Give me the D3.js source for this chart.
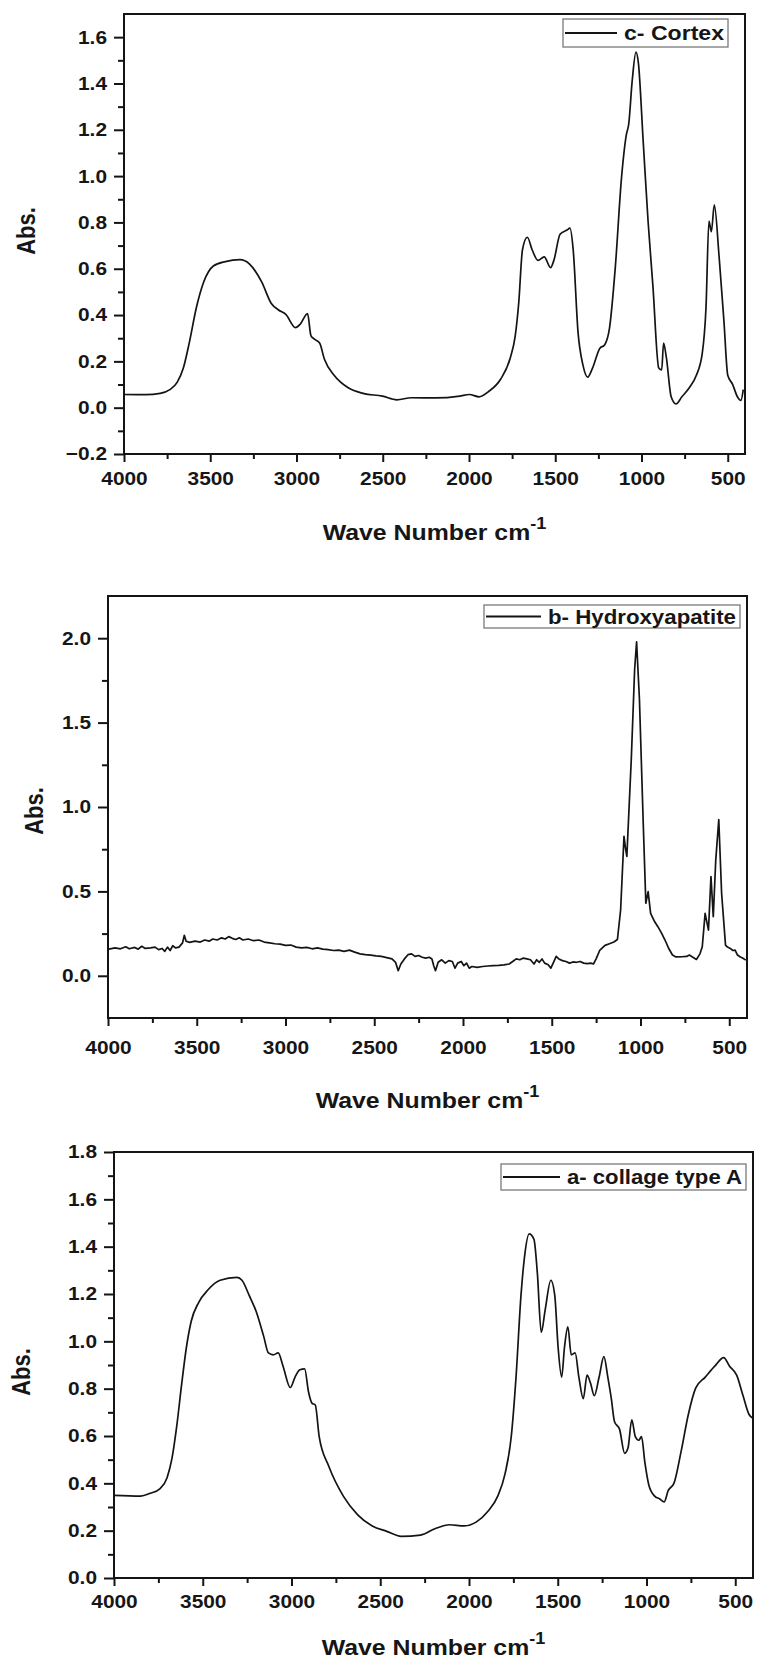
<!DOCTYPE html>
<html>
<head>
<meta charset="utf-8">
<script src="https://cdn.jsdelivr.net/npm/d3@7"></script>
<style>
  body { margin: 0; background: #fff; }
  svg { display: block; }
  text { font-family: "Liberation Sans", Arial, sans-serif; font-weight: bold; fill: #161616; }
</style>
</head>
<body>
<div id="graph"></div>
<script>
// ---- data ----
var x_major = [4000, 3500, 3000, 2500, 2000, 1500, 1000, 500];
var x_minor = [3750, 3250, 2750, 2250, 1750, 1250, 750];

var cortex_wave = [4000,3874,3790,3734,3692,3656,3622,3580,3538,3482,3412,3328,3272,3202,3146,3104,3062,3006,2978,2936,
  2916,2894,2866,2838,2782,2698,2614,2502,2418,2334,2194,2054,1998,1942,1886,1816,1760,1732,1712,1690,
  1662,1634,1600,1564,1527,1508,1472,1432,1415,1396,1368,1340,1312,1284,1242,1214,1186,1152,1116,1088,
  1074,1054,1032,1018,990,962,934,900,883,872,856,828,800,766,724,682,648,626,609,595,
  578,550,522,500,472,444,424,410];
var cortex_abs = [0.057,0.056,0.062,0.078,0.109,0.171,0.279,0.434,0.543,0.612,0.631,0.639,0.620,0.543,0.450,0.422,0.403,0.346,0.361,0.406,
  0.310,0.295,0.279,0.209,0.140,0.085,0.062,0.050,0.034,0.043,0.042,0.050,0.057,0.047,0.070,0.124,0.217,0.310,0.450,0.682,
  0.736,0.682,0.636,0.651,0.605,0.636,0.749,0.767,0.775,0.682,0.326,0.186,0.132,0.171,0.256,0.271,0.341,0.605,0.992,1.178,
  1.225,1.411,1.535,1.488,1.147,0.806,0.527,0.171,0.163,0.279,0.217,0.047,0.016,0.047,0.085,0.140,0.233,0.434,0.806,0.760,
  0.876,0.651,0.372,0.140,0.101,0.047,0.031,0.078];

// hydroxyapatite: noisy baseline, then the phosphate bands
var hap_wave = [3995,3960,3930,3900,3880,3850,3830,3810,3790,3760,3735,3715,3695,3680,3665,3650,3635,3620,3600,3580,
  3570,3560,3540,3510,3480,3455,3430,3410,3385,3360,3340,3320,3300,3280,3260,3240,3210,3180,3150,3120,
  3090,3060,3030,3000,2970,2940,2910,2880,2850,2820,2790,2760,2730,2700,2670,2640,2610,2580,2550,2520,
  2490,2460,2430,2400,2380,2365,2350,2330,2310,2290,2270,2250,2230,2210,2190,2175,2165,2155,2140,2120,
  2100,2080,2060,2045,2030,2010,1995,1980,1965,1950,1920,1890,1860,1830,1800,1770,1740,1720,1700,1680,
  1660,1640,1620,1600,1585,1570,1555,1540,1520,1505,1490,1475,1460,1440,1420,1400,1380,1360,1340,1320,
  1300,1280,1265,1250,1230,1200,1175,1150,1130,1112,1093,1085,1077,1052,1033,1022,1006,984,970,957,
  943,920,902,880,862,840,820,800,766,740,725,705,685,665,652,636,617,603,590,576,
  559,543,521,510,494,480,467,455,440,425,407];
var hap_abs = [0.158,0.165,0.160,0.172,0.160,0.168,0.158,0.175,0.162,0.165,0.170,0.155,0.162,0.145,0.170,0.150,0.178,0.165,0.170,0.195,
  0.240,0.205,0.198,0.205,0.200,0.212,0.205,0.218,0.212,0.225,0.218,0.232,0.222,0.215,0.225,0.212,0.218,0.208,0.212,0.200,
  0.195,0.190,0.188,0.180,0.182,0.170,0.165,0.168,0.160,0.165,0.158,0.155,0.150,0.152,0.145,0.152,0.140,0.130,0.125,0.122,
  0.118,0.115,0.108,0.100,0.080,0.030,0.070,0.100,0.125,0.130,0.115,0.120,0.110,0.105,0.110,0.100,0.060,0.030,0.080,0.095,
  0.075,0.090,0.085,0.045,0.075,0.085,0.060,0.075,0.045,0.055,0.050,0.055,0.058,0.060,0.062,0.065,0.070,0.085,0.100,0.095,
  0.105,0.100,0.095,0.070,0.095,0.080,0.100,0.075,0.065,0.045,0.080,0.115,0.100,0.090,0.085,0.075,0.082,0.080,0.085,0.075,
  0.072,0.075,0.070,0.100,0.150,0.180,0.190,0.200,0.215,0.390,0.826,0.760,0.707,1.281,1.816,1.978,1.638,0.885,0.430,0.499,
  0.370,0.320,0.291,0.250,0.212,0.160,0.123,0.112,0.113,0.115,0.123,0.110,0.097,0.130,0.172,0.370,0.271,0.588,0.350,0.687,
  0.925,0.489,0.182,0.170,0.162,0.150,0.152,0.125,0.113,0.105,0.093];

var coll_wave = [4000,3850,3796,3742,3701,3674,3646,3619,3592,3565,3524,3470,3402,3307,3279,3239,3198,3157,3130,3103,
  3075,3048,3007,2980,2953,2926,2904,2885,2866,2844,2790,2708,2627,2545,2463,2382,2273,2192,2110,2028,
  1960,1892,1838,1797,1762,1735,1707,1688,1661,1634,1615,1593,1571,1539,1517,1498,1478,1462,1443,1424,
  1402,1381,1356,1335,1316,1294,1267,1240,1218,1199,1180,1152,1123,1104,1083,1063,1044,1028,1009,987,
  954,927,900,878,845,805,764,723,669,614,565,533,492,456,423,402];
var coll_abs = [0.349,0.346,0.358,0.377,0.424,0.503,0.645,0.818,0.975,1.085,1.163,1.218,1.258,1.270,1.258,1.195,1.124,1.022,0.951,0.943,
  0.951,0.896,0.805,0.849,0.880,0.884,0.786,0.739,0.731,0.597,0.472,0.346,0.267,0.220,0.197,0.176,0.181,0.208,0.225,0.220,
  0.236,0.283,0.346,0.440,0.597,0.849,1.195,1.352,1.454,1.431,1.289,1.038,1.132,1.258,1.195,0.975,0.849,0.975,1.061,0.943,
  0.951,0.849,0.758,0.857,0.825,0.770,0.849,0.935,0.849,0.762,0.660,0.629,0.527,0.550,0.668,0.597,0.582,0.597,0.487,0.393,
  0.346,0.335,0.322,0.369,0.401,0.535,0.692,0.802,0.849,0.896,0.931,0.896,0.857,0.770,0.692,0.676];

var cortex_y_major = [-0.2, 0.0, 0.2, 0.4, 0.6, 0.8, 1.0, 1.2, 1.4, 1.6];
var cortex_y_minor = [-0.1, 0.1, 0.3, 0.5, 0.7, 0.9, 1.1, 1.3, 1.5];
var hap_y_major = [0.0, 0.5, 1.0, 1.5, 2.0];
var hap_y_minor = [0.25, 0.75, 1.25, 1.75];
var coll_y_major = [0.0, 0.2, 0.4, 0.6, 0.8, 1.0, 1.2, 1.4, 1.6, 1.8];
var coll_y_minor = [0.1, 0.3, 0.5, 0.7, 0.9, 1.1, 1.3, 1.5, 1.7];

var legend_labels = ["c- Cortex", "b- Hydroxyapatite", "a- collage type A"];

// figure text looks stretched sideways in the scan
var SX = 1.13;
var LINE_COLOR = "#141414";

let svg = d3.select("#graph").append("svg")
  .attr("width", 758)
  .attr("height", 1663);

let panels = [
  { wave: cortex_wave, abs: cortex_abs, y_domain: [-0.2, 1.7], y_major: cortex_y_major, y_minor: cortex_y_minor,
    curve: d3.curveMonotoneX,
    left: 124, right: 745, top: 14, bottom: 454, x_label_base: 31, title_base: 540, abs_x: 26, abs_y: 231,
    legend: { x0: 563, x1: 728, y0: 19, y1: 47, sample: 52 }, label: legend_labels[0] },
  { wave: hap_wave, abs: hap_abs, y_domain: [-0.25, 2.25], y_major: hap_y_major, y_minor: hap_y_minor,
    curve: d3.curveLinear,
    left: 108, right: 747, top: 596, bottom: 1018, x_label_base: 36, title_base: 1108, abs_x: 34, abs_y: 811,
    legend: { x0: 484, x1: 740, y0: 605, y1: 628, sample: 55 }, label: legend_labels[1] },
  { wave: coll_wave, abs: coll_abs, y_domain: [0, 1.8], y_major: coll_y_major, y_minor: coll_y_minor,
    curve: d3.curveMonotoneX,
    left: 114, right: 753, top: 1152, bottom: 1578, x_label_base: 30, title_base: 1655, abs_x: 21, abs_y: 1372,
    legend: { x0: 501, x1: 746, y0: 1164, y1: 1190, sample: 57 }, label: legend_labels[2] }
];

panels.forEach(function (p, i) { draw_panel(p, i); });

function draw_panel(p, idx) {

  let xscale = d3.scaleLinear().domain([4000, 400]).range([p.left, p.right]);
  let yscale = d3.scaleLinear().domain(p.y_domain).range([p.bottom, p.top]);

  let g = svg.append("g");

  // minor ticks first
  g.append("g")
    .attr("transform", "translate(0," + p.bottom + ")")
    .call(d3.axisBottom(xscale).tickValues(x_minor).tickSize(5).tickFormat(""))
    .call(tidy_axis);

  g.append("g")
    .attr("transform", "translate(" + p.left + ",0)")
    .call(d3.axisLeft(yscale).tickValues(p.y_minor).tickSize(6).tickFormat(""))
    .call(tidy_axis);

  // major ticks + labels
  let xa = g.append("g")
    .attr("transform", "translate(0," + p.bottom + ")")
    .call(d3.axisBottom(xscale).tickValues(x_major).tickSize(8).tickFormat(d3.format("d")))
    .call(tidy_axis);
  xa.selectAll("text")
    .attr("y", p.x_label_base)
    .attr("dy", 0)
    .attr("transform", "scale(" + SX + ",1)");

  let ya = g.append("g")
    .attr("transform", "translate(" + p.left + ",0)")
    .call(d3.axisLeft(yscale).tickValues(p.y_major).tickSize(10).tickFormat(d3.format(".1f")))
    .call(tidy_axis);
  ya.selectAll("text")
    .attr("x", -17 / SX)
    .attr("transform", "scale(" + SX + ",1)");

  // spectrum
  let clip_id = "clip" + idx;
  svg.append("clipPath").attr("id", clip_id)
    .append("rect")
    .attr("x", p.left).attr("y", p.top)
    .attr("width", p.right - p.left).attr("height", p.bottom - p.top);

  let line = d3.line()
    .x(function (d) { return xscale(d[0]); })
    .y(function (d) { return yscale(d[1]); })
    .curve(p.curve);

  g.append("path")
    .datum(d3.zip(p.wave, p.abs))
    .attr("clip-path", "url(#" + clip_id + ")")
    .attr("fill", "none")
    .attr("stroke", LINE_COLOR)
    .attr("stroke-width", 1.7)
    .attr("stroke-linejoin", "round")
    .attr("d", line);

  // frame
  g.append("rect")
    .attr("x", p.left).attr("y", p.top)
    .attr("width", p.right - p.left).attr("height", p.bottom - p.top)
    .attr("fill", "none")
    .attr("stroke", LINE_COLOR)
    .attr("stroke-width", 2);

  // legend
  let lg = p.legend;
  let ymid = (lg.y0 + lg.y1) / 2;
  g.append("rect")
    .attr("x", lg.x0).attr("y", lg.y0)
    .attr("width", lg.x1 - lg.x0).attr("height", lg.y1 - lg.y0)
    .attr("fill", "#fff")
    .attr("stroke", "#7a7a7a")
    .attr("stroke-width", 1.3);
  g.append("line")
    .attr("x1", lg.x0 + 2).attr("x2", lg.x0 + 2 + lg.sample)
    .attr("y1", ymid).attr("y2", ymid)
    .attr("stroke", LINE_COLOR)
    .attr("stroke-width", 2);
  let tx = lg.x0 + lg.sample + 9;
  g.append("text")
    .attr("x", tx)
    .attr("y", ymid + 7)
    .attr("font-size", 20)
    .attr("textLength", lg.x1 - 4 - tx)
    .attr("lengthAdjust", "spacingAndGlyphs")
    .text(p.label);

  // axis titles
  g.append("text")
    .attr("transform", "translate(" + p.abs_x + "," + p.abs_y + ") scale(" + SX + ",1) rotate(-90)")
    .attr("text-anchor", "middle")
    .attr("dy", "0.36em")
    .attr("font-size", 22)
    .text("Abs.");

  let title = g.append("text")
    .attr("transform", "translate(" + ((p.left + p.right) / 2) + "," + p.title_base + ") scale(" + SX + ",1)")
    .attr("text-anchor", "middle")
    .attr("font-size", 22);
  title.append("tspan").text("Wave Number cm");
  title.append("tspan")
    .attr("dy", -11)
    .attr("font-size", 16)
    .text("-1");
}

function tidy_axis(sel) {
  sel.select(".domain").remove();
  sel.selectAll("line").attr("stroke", LINE_COLOR).attr("stroke-width", 2);
  sel.selectAll("text").attr("font-size", 18.5).attr("fill", "#161616");
}
</script>
</body>
</html>
